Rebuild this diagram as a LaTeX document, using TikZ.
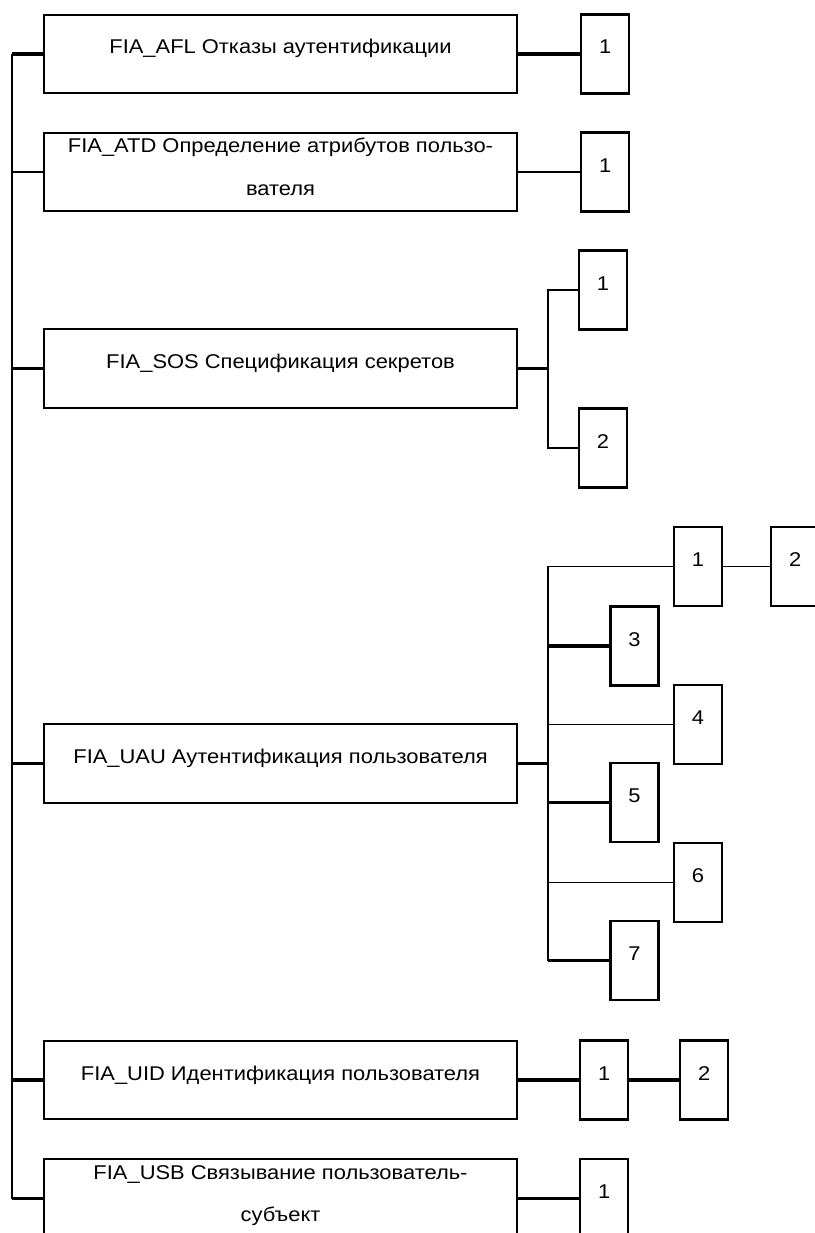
\documentclass[tikz,border=0pt]{standalone}
\usepackage{fontspec}
\setmainfont[FakeStretch=1.1]{Liberation Sans}
\usetikzlibrary{positioning}
\tikzset{
  bigbox/.style={draw, line width=1.8pt, minimum width=14.19cm, minimum height=2.36cm, inner sep=0pt, text height=0.5cm, text depth=0.5cm, font=\fontsize{17}{20}\selectfont},
  twobox/.style={bigbox, align=center, text height=1.5cm, text depth=0.12cm, font=\fontsize{17}{36}\selectfont},
  numbox/.style={draw, line width=1.8pt, minimum width=1.44cm, minimum height=2.37cm, inner sep=0pt, text height=0.5cm, text depth=0.5cm, font=\fontsize{17}{20}\selectfont},
  thinline/.style={line width=1.2pt},
  thickline/.style={line width=2.6pt}
}
\begin{document}
\begin{tikzpicture}[x=0.03cm, y=-0.03cm]
\useasboundingbox (0,0) rectangle (815,1233);

% main families
\node[bigbox] (afl) at (280.5,54) {FIA\_AFL Отказы аутентификации};
\node[twobox] (atd) at (280.5,172) {FIA\_ATD Определение атрибутов пользо-\\вателя};
\node[bigbox] (sos) at (280.5,368.5) {FIA\_SOS Спецификация секретов};
\node[bigbox] (uau) at (280.5,763.5) {FIA\_UAU Аутентификация пользователя};
\node[bigbox] (uid) at (280.5,1080) {FIA\_UID Идентификация пользователя};
\node[twobox] (usb) at (280.5,1198.5) {FIA\_USB Связывание пользователь-\\субъект};

% components
\node[numbox, right=1.86cm of afl] (afl1) {1};
\node[numbox, right=1.86cm of atd] (atd1) {1};
\node[numbox] (sos1) at (603,290) {1};
\node[numbox] (sos2) at (603,448) {2};
\node[numbox] (uau1) at (698,566.5) {1};
\node[numbox, right=1.41cm of uau1] (uau2) {2};
\node[numbox] (uau3) at (634.5,646) {3};
\node[numbox] (uau4) at (698,724.5) {4};
\node[numbox] (uau5) at (634.5,802.5) {5};
\node[numbox] (uau6) at (698,882.5) {6};
\node[numbox] (uau7) at (634.5,960.5) {7};
\node[numbox, right=1.83cm of uid] (uid1) {1};
\node[numbox, right=1.5cm of uid1] (uid2) {2};
\node[numbox, right=1.83cm of usb] (usb1) {1};

\coordinate (spine) at (12,0);
\coordinate (sosfork) at (548,0);
\coordinate (uaufork) at (548,0);

% class spine
\draw[thinline] (afl.west -| spine) -- (usb.west -| spine);
\foreach \b/\w in {afl/thickline, atd/thinline, sos/thickline, uau/thickline, uid/thickline, usb/thickline}
  \draw[\w] (\b.west) -- (\b.west -| spine);

\draw[thickline] (afl) -- (afl1);
\draw[thinline] (atd) -- (atd1);

\draw[thickline] (sos.east) -- (sos.east -| sosfork);
\draw[thinline] (sos1.west) -| (sosfork |- sos2.west) -- (sos2.west);

\draw[thickline] (uau.east) -- (uau.east -| uaufork);
\draw[thinline] (uau1.west) -| (uaufork |- uau7.west);
\foreach \n/\w in {3/thickline, 4/thinline, 5/thickline, 6/thinline, 7/thickline}
  \draw[\w] (uaufork |- uau\n.west) -- (uau\n.west);
\draw[thinline] (uau1) -- (uau2);

\draw[thickline] (uid) -- (uid1);
\draw[thickline] (uid1) -- (uid2);
\draw[thickline] (usb) -- (usb1);
\end{tikzpicture}
\end{document}
